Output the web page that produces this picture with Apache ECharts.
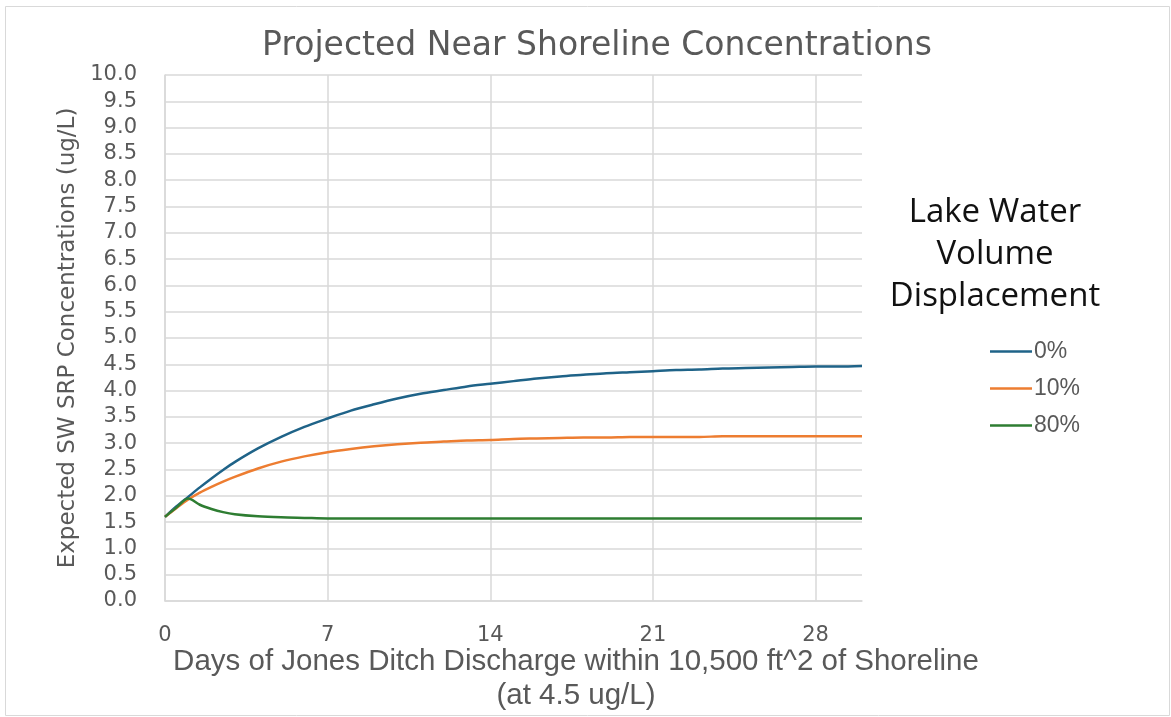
<!DOCTYPE html>
<html>
<head>
<meta charset="utf-8">
<script src="https://cdn.jsdelivr.net/npm/echarts@6/dist/echarts.min.js"></script>
<style>
html,body{margin:0;padding:0;background:#fff;}
#chart{width:1171px;height:717px;}
</style>
</head>
<body>
<div id="chart"></div>
<script>
// Days (x values)
const days = [0,0.5,1,1.5,2,2.5,3,4,5,6,7,8,9,10,11,12,13,14,15,16,17,18,19,20,21,22,23,24,25,26,27,28,29,30];
// Series values (ug/L)
const disp0 = [1.60,1.80,1.98,2.16,2.33,2.49,2.64,2.90,3.12,3.31,3.47,3.62,3.74,3.85,3.94,4.01,4.08,4.13,4.18,4.23,4.27,4.30,4.33,4.35,4.37,4.39,4.40,4.42,4.43,4.44,4.45,4.46,4.46,4.47];
const disp10 = [1.60,1.77,1.93,2.06,2.17,2.27,2.36,2.52,2.65,2.75,2.83,2.89,2.94,2.98,3.01,3.03,3.05,3.06,3.08,3.09,3.10,3.11,3.11,3.12,3.12,3.12,3.12,3.13,3.13,3.13,3.13,3.13,3.13,3.13];
const disp80 = [1.60,1.78,1.95,1.83,1.75,1.69,1.65,1.61,1.59,1.58,1.57,1.57,1.57,1.57,1.57,1.57,1.57,1.57,1.57,1.57,1.57,1.57,1.57,1.57,1.57,1.57,1.57,1.57,1.57,1.57,1.57,1.57,1.57,1.57];
const seriesNames = ['0%','10%','80%'];
const seriesColors = ['#1f6388','#ed7d31','#2e7d32'];

const title = 'Projected Near Shoreline Concentrations';
const yName = 'Expected SW SRP Concentrations (ug/L)';
const xName = 'Days of Jones Ditch Discharge within 10,500 ft^2 of Shoreline\n(at 4.5 ug/L)';
const legendTitle = 'Lake Water\nVolume\nDisplacement';

const pair = (vals) => days.map((d, i) => [d, vals[i]]);
const allVals = [disp0, disp10, disp80];

const chart = echarts.init(document.getElementById('chart'));
chart.setOption({
  backgroundColor: '#ffffff',
  animation: false,
  title: {
    text: title,
    left: 592, top: 25, textAlign: 'center',
    textStyle: {fontFamily: 'DejaVu Sans', fontSize: 33, fontWeight: 'normal', color: '#595959'}
  },
  grid: {left: 165, right: 309, top: 75, bottom: 116, containLabel: false},
  legend: {
    orient: 'vertical', left: 990, top: 339.5, padding: 0, itemWidth: 42, itemHeight: 14, itemGap: 13,
    icon: 'path://M0,6 L40,6 L40,8.5 L0,8.5 Z',
    textStyle: {fontFamily: 'Liberation Sans', fontSize: 23, lineHeight: 24, color: '#595959', padding: [0,0,0,-3]},
    data: seriesNames
  },
  graphic: [
    {type: 'text', x: 995, y: 192,
      style: {text: legendTitle, fontFamily: 'Open Sans', fontSize: 33, fill: '#111111',
        align: 'center', lineHeight: 42}},
    {type: 'text', x: 576, y: 645,
      style: {text: xName, fontFamily: 'Liberation Sans', fontSize: 29.5, fill: '#595959',
        align: 'center', lineHeight: 34}},
    {type: 'rect', shape: {x: 5.5, y: 6.5, width: 1164, height: 709}, style: {fill: 'none', stroke: '#d9d9d9', lineWidth: 1}, silent: true}
  ],
  xAxis: {
    type: 'value', min: 0, max: 30, interval: 7,
    axisLine: {show: true, onZero: false, lineStyle: {color: '#d9d9d9', width: 1.5}},
    axisTick: {show: false},
    axisLabel: {showMaxLabel: false, margin: 24, fontFamily: 'DejaVu Sans', fontSize: 21, color: '#595959'},
    splitLine: {show: true, showMaxLine: false, lineStyle: {color: '#d9d9d9', width: 1.5}}
  },
  yAxis: {
    type: 'value', min: 0, max: 10, interval: 0.5,
    name: yName, nameLocation: 'middle', nameGap: 85, nameRotate: 90,
    nameTextStyle: {fontFamily: 'DejaVu Sans', fontSize: 23, color: '#595959'},
    axisLine: {show: true, lineStyle: {color: '#d9d9d9', width: 1.5}},
    axisTick: {show: false},
    axisLabel: {margin: 28, fontFamily: 'DejaVu Sans', fontSize: 21, color: '#595959', formatter: v => v.toFixed(1)},
    splitLine: {show: true, lineStyle: {color: '#d9d9d9', width: 1.5}}
  },
  series: seriesNames.map((n, i) => ({
    name: n, type: 'line', smooth: 0.3, symbol: 'none',
    data: pair(allVals[i]),
    lineStyle: {color: seriesColors[i], width: 2.5},
    itemStyle: {color: seriesColors[i]}
  }))
});
</script>
</body>
</html>
